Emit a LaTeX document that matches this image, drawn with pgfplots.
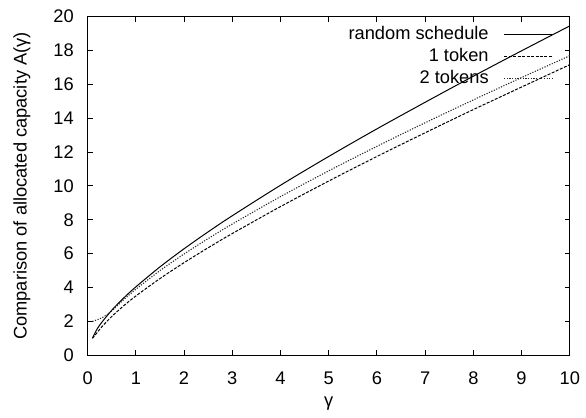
\documentclass[border=0pt]{standalone}
\usepackage{fontspec}
\setmainfont{Liberation Sans}
\usepackage{pgfplots}
\pgfplotsset{compat=1.18}

\pgfplotstableread{
x     y
0.1   1.02
0.2   1.57
0.3   1.97
0.5   2.66
0.75  3.39
1     4.04
1.5   5.22
2     6.29
2.5   7.29
3     8.24
4     10.04
5     11.74
6     13.37
7     14.94
8     16.48
9     17.98
10    19.45
}\randomsched

\pgfplotstableread{
x     y
0.1   1.00
0.2   1.35
0.3   1.70
0.5   2.29
0.75  2.93
1     3.50
1.5   4.53
2     5.47
2.5   6.35
3     7.19
4     8.78
5     10.29
6     11.74
7     13.14
8     14.51
9     15.84
10    17.16
}\onetoken

\pgfplotstableread{
x     y
0.1   2.00
0.2   2.10
0.3   2.22
0.4   2.40
0.5   2.62
0.75  3.29
1     3.90
1.5   5.00
2     5.98
2.5   6.89
3     7.75
4     9.37
5     10.89
6     12.34
7     13.73
8     15.08
9     16.40
10    17.69
}\twotokens

\begin{document}
\fontsize{11}{13}\selectfont
\begin{tikzpicture}
\begin{axis}[
  scale only axis,
  width=290.4pt,
  height=204pt,
  xmin=0, xmax=10,
  ymin=0, ymax=20,
  xtick={0,1,...,10},
  ytick={0,2,...,20},
  tick align=inside,
  major tick length=3pt,
  axis line style={line width=0.6pt},
  every tick/.style={black, line width=0.6pt},
  /pgf/number format/assume math mode=true,
  xticklabel style={yshift=-6pt},
  yticklabel style={xshift=-4.5pt},
  xlabel={γ},
  ylabel={Comparison of allocated capacity A(γ)},
  every axis x label/.style={at={(axis description cs:0.5,0)}, anchor=center, yshift=-29pt},
  every axis y label/.style={at={(axis description cs:0,0.5)}, xshift=-39.6pt, anchor=center, rotate=90},
  legend plot pos=right,
  legend cell align=right,
  legend image code/.code={\draw[#1] (0pt,0pt) -- (29pt,0pt);},
  legend style={at={(rel axis cs:1,1)}, anchor=north east, draw=none, fill=none,
    xshift=-9pt, yshift=-2.5pt, row sep=-0.2pt, inner sep=1pt,
    nodes={inner sep=2pt},
    /tikz/every odd column/.append style={column sep=7pt}},
]
\addplot[black, line width=0.6pt, smooth] table[x=x, y=y] {\randomsched};
\addlegendentry{random schedule}
\addplot[black, line width=0.6pt, dash pattern=on 1.8pt off 0.9pt, smooth] table[x=x, y=y] {\onetoken};
\addlegendentry{1 token}
\addplot[black!85, line width=0.65pt, dash pattern=on 0.7pt off 0.9pt, smooth] table[x=x, y=y] {\twotokens};
\addlegendentry{2 tokens}
\end{axis}
\path (current axis.south west) ++(-52.8pt,-37.4pt);
\path (current axis.north east) ++(8.4pt,10pt);
\end{tikzpicture}
\end{document}
